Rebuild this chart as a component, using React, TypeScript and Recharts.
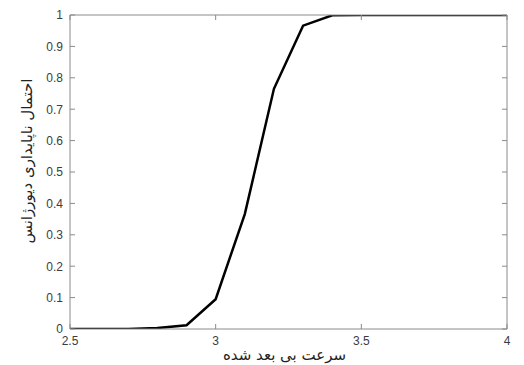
import React from 'react';
import { LineChart, Line, XAxis, YAxis, Label } from 'recharts';

const speedValues = [2.5, 2.6, 2.7, 2.8, 2.9, 3.0, 3.1, 3.2, 3.3, 3.4, 3.5, 3.6, 3.7, 3.8, 3.9, 4.0];
const probabilityValues = [0, 0, 0, 0.003, 0.012, 0.095, 0.366, 0.765, 0.966, 0.999, 1, 1, 1, 1, 1, 1];
const xTicks = [2.5, 3, 3.5, 4];
const yTicks = [0, 0.1, 0.2, 0.3, 0.4, 0.5, 0.6, 0.7, 0.8, 0.9, 1];
const xAxisTitle = 'سرعت بی بعد شده';
const yAxisTitle = 'احتمال ناپایداری دیورژانس';

const data = speedValues.map((s, i) => ({ speed: s, p: probabilityValues[i] }));

const AXIS = '#8a8a8a';
const TICK_LEN = 5;
const TICK_FONT = '"Liberation Sans", Arial, sans-serif';
const TICK_COLOR = '#3c3c3c';
const LABEL_FONT = '"DejaVu Sans", sans-serif';
const MARGIN_X = 7;
const MARGIN_Y = 7;

const fmt = (v: number) => String(Math.round(v * 10) / 10);

const BottomTick = (props: any) => {
  const { x, y, payload } = props;
  const ay = y - MARGIN_X;
  return (
    <g>
      <line x1={x} x2={x} y1={ay} y2={ay - TICK_LEN} stroke={AXIS} strokeWidth={1} />
      <text x={x} y={y} dy="0.71em" textAnchor="middle" fontFamily={TICK_FONT} fontSize={12} fill={TICK_COLOR}>
        {fmt(payload.value)}
      </text>
    </g>
  );
};

const LeftTick = (props: any) => {
  const { x, y, payload } = props;
  const ax = x + MARGIN_Y;
  return (
    <g>
      <line x1={ax} x2={ax + TICK_LEN} y1={y} y2={y} stroke={AXIS} strokeWidth={1} />
      <text x={x} y={y} dy="0.36em" textAnchor="end" fontFamily={TICK_FONT} fontSize={12} fill={TICK_COLOR}>
        {fmt(payload.value)}
      </text>
    </g>
  );
};

const TopTick = (props: any) => {
  const { x, y } = props;
  return <line x1={x} x2={x} y1={y} y2={y + TICK_LEN} stroke={AXIS} strokeWidth={1} />;
};

const RightTick = (props: any) => {
  const { x, y } = props;
  return <line x1={x} x2={x - TICK_LEN} y1={y} y2={y} stroke={AXIS} strokeWidth={1} />;
};

const YTitle = (props: any) => {
  const vb = props.viewBox || { x: 0, y: 15, width: 70, height: 314 };
  const cx = vb.x + 27;
  const cy = vb.y + vb.height / 2 - 11;
  return (
    <text
      x={cx}
      y={cy}
      transform={`rotate(-90 ${cx} ${cy})`}
      textAnchor="middle"
      dominantBaseline="central"
      fontFamily={LABEL_FONT}
      fontSize={15}
      fill="#222"
      direction="rtl"
    >
      {yAxisTitle}
    </text>
  );
};

const XTitle = (props: any) => {
  const vb = props.viewBox || { x: 70, y: 329, width: 437, height: 36 };
  const cx = vb.x + vb.width / 2 - 4;
  const cy = vb.y + 31;
  return (
    <text x={cx} y={cy} textAnchor="middle" fontFamily={LABEL_FONT} fontSize={15} fill="#222" direction="rtl">
      {xAxisTitle}
    </text>
  );
};

export default function App() {
  return (
    <div style={{ position: 'absolute', left: 0, top: 0, width: 524, height: 365, background: '#fff' }}>
      <LineChart width={524} height={365} data={data} margin={{ top: 14, right: 16, bottom: 0, left: 0 }}>
        <XAxis
          xAxisId="bottom"
          dataKey="speed"
          type="number"
          domain={[2.5, 4]}
          ticks={xTicks}
          height={36}
          tickSize={0}
          tickMargin={MARGIN_X}
          tickLine={false}
          axisLine={{ stroke: AXIS, strokeWidth: 1 }}
          tick={<BottomTick />}
          interval={0}
          allowDataOverflow
        >
          <Label content={<XTitle />} />
        </XAxis>
        <XAxis
          xAxisId="top"
          orientation="top"
          dataKey="speed"
          type="number"
          domain={[2.5, 4]}
          ticks={xTicks}
          height={1}
          tickSize={0}
          tickMargin={0}
          tickLine={false}
          axisLine={{ stroke: AXIS, strokeWidth: 1 }}
          tick={<TopTick />}
          interval={0}
          allowDataOverflow
        />
        <YAxis
          yAxisId="left"
          type="number"
          domain={[0, 1]}
          ticks={yTicks}
          width={70}
          tickSize={0}
          tickMargin={MARGIN_Y}
          tickLine={false}
          axisLine={{ stroke: AXIS, strokeWidth: 1 }}
          tick={<LeftTick />}
          interval={0}
          allowDataOverflow
        >
          <Label content={<YTitle />} />
        </YAxis>
        <YAxis
          yAxisId="right"
          orientation="right"
          type="number"
          domain={[0, 1]}
          ticks={yTicks}
          width={1}
          tickSize={0}
          tickMargin={0}
          tickLine={false}
          axisLine={{ stroke: AXIS, strokeWidth: 1 }}
          tick={<RightTick />}
          interval={0}
          allowDataOverflow
        />
        <Line
          xAxisId="bottom"
          yAxisId="left"
          type="linear"
          dataKey="p"
          stroke="#000"
          strokeWidth={2.5}
          dot={false}
          isAnimationActive={false}
        />
      </LineChart>
    </div>
  );
}
